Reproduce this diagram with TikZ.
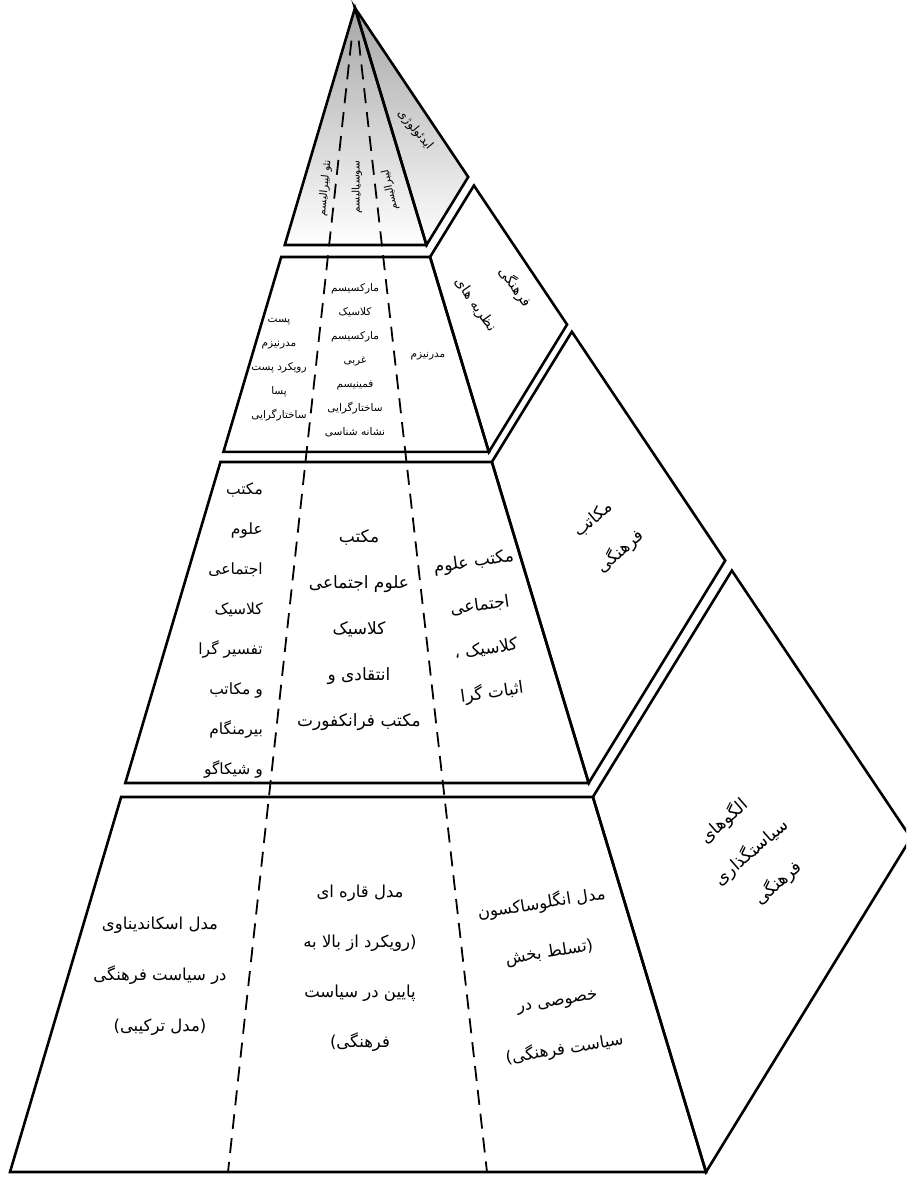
\documentclass[tikz,border=0pt]{standalone}
\usepackage{fontspec}
\newfontfamily\farsi[Script=Arabic]{DejaVu Sans}
\TeXXeTstate=1
\usetikzlibrary{calc}
\newcommand\R[1]{\beginR #1\endR}
\begin{document}
\begin{tikzpicture}[x=1pt,y=-1pt,
  edge/.style={line width=2.6pt},
  col/.style={line width=1.8pt, dash pattern=on 15pt off 9pt},
  txt/.style 2 args={font=\farsi\fontsize{#1}{#2}\selectfont, align=center, inner sep=0pt},
  shadeface/.style={top color=gray!70, bottom color=white}]
\useasboundingbox (0,0) rectangle (906,1177);
\fill[white] (0,0) rectangle (906,1177);
\clip (0,0) rectangle (906,1177);
% main corners
\coordinate (A) at (355,8);
\coordinate (FL) at (10,1172);
\coordinate (FR) at (706,1172);
\coordinate (BB) at (911,838);
\coordinate (DL) at (228,1172);
\coordinate (DR) at (487,1172);
% tier cuts
\foreach \n/\t in {1b/0.2036, 2a/0.2139, 2b/0.3814, 3a/0.3900, 3b/0.6658, 4a/0.6778, 4b/1} {
  \coordinate (L\n) at ($(A)!\t!(FL)$);
  \coordinate (R\n) at ($(A)!\t!(FR)$);
  \coordinate (B\n) at ($(A)!\t!(BB)$);
}
% shading of the top tier
\shade[shadeface] (A) -- (L1b) -- (R1b) -- cycle;
\shade[shadeface] (A) -- (R1b) -- (B1b) -- cycle;
% dashed columns
\coordinate (DLs) at ($(A)!0.028!(DL)$);
\coordinate (DRs) at ($(A)!0.028!(DR)$);
\draw[col] (DLs) -- (DL);
\draw[col] (DRs) -- (DR);
% tier outlines
\draw[edge] (A) -- (L1b) -- (R1b) -- cycle;
\draw[edge] (A) -- (R1b) -- (B1b) -- cycle;
\foreach \n in {2,3,4} {
  \draw[edge] (L\n a) -- (R\n a) -- (R\n b) -- (L\n b) -- cycle;
  \draw[edge] (R\n a) -- (B\n a) -- (B\n b) -- (R\n b) -- cycle;
}
% tier 1 texts
\node[txt={10.5}{12}, rotate=84] (t1l) at (325,188) {\R{نئو لیبرالیسم}};
\node[txt={10.5}{12}, rotate=90] (t1m) at (357,187) {\R{سوسیالیسم}};
\node[txt={10.5}{12}, rotate=103] (t1r) at (390,190) {\R{لیبرالیسم}};
\node[txt={12}{14}, rotate=-50] (t1s) at (415,130) {\R{ایدئولوژی}};
% tier 2 texts
\node[txt={10.5}{12}] (t2r) at (428,356) {\R{مدرنیزم}};
\node[txt={10.5}{24}] (t2m) at (355,360) {\R{مارکسیسم}\\\R{کلاسیک}\\\R{مارکسیسم}\\\R{غربی}\\\R{فمینیسم}\\\R{ساختارگرایی}\\\R{نشانه شناسی}};
\node[txt={10.5}{24}] (t2l) at (279,370) {\R{پست}\\\R{مدرنیزم}\\\R{رویکرد پست}\\\R{پسا}\\\R{ساختارگرایی}};
\node[txt={14}{16}, rotate=-55] (t2s1) at (515,287) {\R{فرهنگی}};
\node[txt={14}{16}, rotate=-55] (t2s2) at (475,305) {\R{نظریه های}};
% tier 3 texts
\node[txt={17}{44}, rotate=8] (t3r) at (483,628) {\R{مکتب علوم}\\\R{اجتماعی}\\\R{کلاسیک ،}\\\R{اثبات گرا}};
\node[txt={17}{46}] (t3m) at (359,630) {\R{مکتب}\\\R{علوم اجتماعی}\\\R{کلاسیک}\\\R{انتقادی و}\\\R{مکتب فرانکفورت}};
\node[txt={15.5}{40}, align=right, anchor=east] (t3l) at (263,630) {\R{مکتب}\\\R{علوم}\\\R{اجتماعی}\\\R{کلاسیک}\\\R{تفسیر گرا}\\\R{و مکاتب}\\\R{بیرمنگام}\\\R{و شیکاگو}};
\node[txt={17}{42}, rotate=40] (t3s) at (607,536) {\R{مکاتب}\\\R{فرهنگی}};
% tier 4 texts
\node[txt={16.5}{49}, rotate=9] (t4r) at (553,976) {\R{مدل انگلوساکسون}\\\R{(تسلط بخش}\\\R{خصوصی در}\\\R{سیاست فرهنگی)}};
\node[txt={16.5}{50}] (t4m) at (360,968) {\R{مدل قاره ای}\\\R{(رویکرد از بالا به}\\\R{پایین در سیاست}\\\R{فرهنگی)}};
\node[txt={16.5}{51}] (t4l) at (160,976) {\R{مدل اسکاندیناوی}\\\R{در سیاست فرهنگی}\\\R{(مدل ترکیبی)}};
\node[txt={17.5}{41}, rotate=41] (t4s) at (751,852) {\R{الگوهای}\\\R{سیاستگذاری}\\\R{فرهنگی}};
\end{tikzpicture}
\end{document}
